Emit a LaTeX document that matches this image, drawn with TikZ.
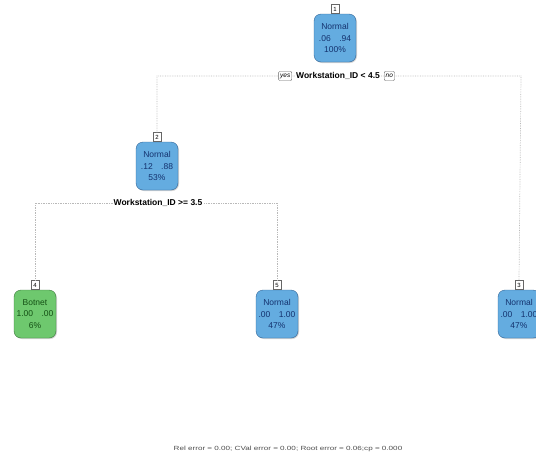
\documentclass[tikz,border=0pt]{standalone}
\usepackage{fontspec}
\setmainfont{Liberation Sans}
\usetikzlibrary{shadows}
\definecolor{nblue}{RGB}{100,172,224}
\definecolor{nbluetxt}{RGB}{20,50,110}
\definecolor{nbluedraw}{RGB}{50,100,150}
\definecolor{ngreen}{RGB}{110,200,110}
\definecolor{ngreentxt}{RGB}{20,80,20}
\definecolor{ngreendraw}{RGB}{60,120,60}
\definecolor{splitline}{RGB}{185,185,185}
\tikzset{
  x=1pt,y=-1pt,
  bluebox/.style={draw=nbluedraw,fill=nblue,rounded corners=7pt,minimum width=42pt,minimum height=48pt,align=center,font=\fontsize{8.5}{11.5}\selectfont,text=nbluetxt,inner sep=1pt,drop shadow={shadow xshift=1pt,shadow yshift=-1pt,opacity=0.35}},
  greenbox/.style={bluebox,draw=ngreendraw,fill=ngreen,text=ngreentxt},
  numbox/.style={draw=gray!80!black,fill=white,font=\fontsize{6}{6}\selectfont,inner sep=1pt,minimum width=8pt,minimum height=9pt,anchor=south},
  splitlbl/.style={font=\bfseries\fontsize{8.5}{10}\selectfont,fill=white,inner sep=1pt},
  yn/.style={draw=gray!80!black,fill=white,font=\itshape\fontsize{6.5}{7}\selectfont,inner sep=1.5pt,minimum height=9pt,rounded corners=1pt},
  conn/.style={draw=splitline,densely dotted,line width=0.7pt},
}
\begin{document}
\begin{tikzpicture}
\useasboundingbox (0,0) rectangle (536,456);
\coordinate (sA) at (158,76);
\coordinate (sB) at (521,76);
\coordinate (sC) at (35,203);
\coordinate (sD) at (277,203);
\node[bluebox] (n1) at (335,38) {Normal\\.06\quad.94\\100\%};
\node[bluebox] (n2) at (157,166) {Normal\\.12\quad.88\\53\%};
\node[greenbox] (n4) at (35,314) {Botnet\\1.00\quad.00\\6\%};
\node[bluebox] (n5) at (277,314) {Normal\\.00\quad1.00\\47\%};
\node[bluebox] (n3) at (519,314) {Normal\\.00\quad1.00\\47\%};
\node[numbox] (k1) at (n1.north) {1};
\node[numbox] (k2) at (n2.north) {2};
\node[numbox] (k4) at (n4.north) {4};
\node[numbox] (k5) at (n5.north) {5};
\node[numbox] (k3) at (n3.north) {3};
\draw[conn] (k2.north) -- (k2.north |- sA) -- (sB) -- (k3.north);
\draw[conn] (k4.north) -- (k4.north |- sC) -- (sD) -- (k5.north);
\node[splitlbl] (l1) at (338,76) {Workstation\_ID < 4.5};
\node[yn,anchor=east] (yes) at ([xshift=-3pt]l1.west) {yes};
\node[yn,anchor=west] (no) at ([xshift=3pt]l1.east) {no};
\node[splitlbl] (l2) at (158,203) {Workstation\_ID >= 3.5};
\node[font=\fontsize{6}{6}\selectfont,text=black!70,xscale=1.35] (cap) at (288,449) {Rel error = 0.00; CVal error = 0.00; Root error = 0.06;cp = 0.000};
\end{tikzpicture}
\end{document}
